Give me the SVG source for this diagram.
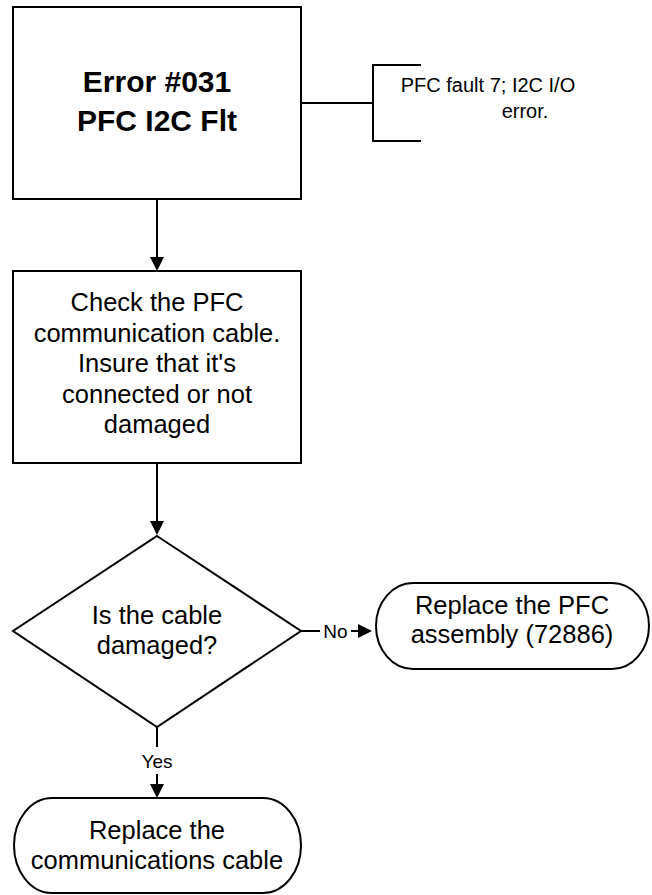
<svg xmlns="http://www.w3.org/2000/svg" width="652" height="895" viewBox="0 0 652 895">
<style>
.shape{fill:#fff;stroke:#000;stroke-width:2}
.line{fill:none;stroke:#000;stroke-width:2}
text{font-family:"Liberation Sans",Arial,sans-serif;fill:#000;text-anchor:middle}
.t{font-size:25.5px}
.b{font-size:30px;font-weight:bold}
.a{font-size:20px}
.l{font-size:19px}
</style>
<defs>
<marker id="arr" viewBox="0 0 14 14" refX="6" refY="7" markerWidth="14" markerHeight="14" markerUnits="userSpaceOnUse" orient="auto">
<path d="M0,0 L14,7 L0,14 z" fill="#000"/>
</marker>
</defs>
<rect width="652" height="895" fill="#fff"/>
<g id="connectors">
<line class="line" x1="301" y1="103" x2="373" y2="103"/>
<line class="line" x1="157" y1="200" x2="157" y2="263" marker-end="url(#arr)"/>
<line class="line" x1="157" y1="464" x2="157" y2="527" marker-end="url(#arr)"/>
<line class="line" x1="301" y1="631" x2="320" y2="631"/>
<line class="line" x1="351" y1="631" x2="364" y2="631" marker-end="url(#arr)"/>
<text class="l" x="335.5" y="637.5">No</text>
<line class="line" x1="157" y1="727" x2="157" y2="747"/>
<line class="line" x1="157" y1="774" x2="157" y2="790" marker-end="url(#arr)"/>
<text class="l" x="157" y="768">Yes</text>
</g>
<g id="error">
<rect class="shape" x="13" y="7" width="288" height="192"/>
<text class="b" x="157" y="92">Error #031</text>
<text class="b" x="157" y="131">PFC I2C Flt</text>
</g>
<g id="note">
<path class="line" d="M421,65 H373 V141 H421"/>
<text class="a" x="488" y="92">PFC fault 7; I2C I/O</text>
<text class="a" x="525" y="118">error.</text>
</g>
<g id="check">
<rect class="shape" x="13" y="271" width="288" height="192"/>
<text class="t" x="157" y="311">Check the PFC</text>
<text class="t" x="157" y="342">communication cable.</text>
<text class="t" x="157" y="372">Insure that it's</text>
<text class="t" x="157" y="403">connected or not</text>
<text class="t" x="157" y="433">damaged</text>
</g>
<g id="decision">
<path class="shape" d="M157,536 L301,631 L157,727 L13,631 z"/>
<text class="t" x="157" y="624">Is the cable</text>
<text class="t" x="157" y="654">damaged?</text>
</g>
<g id="replace-pfc">
<path class="shape" d="M413,583 H612 A37,43 0 0 1 612,669 H413 A37,43 0 0 1 413,583 z"/>
<text class="t" x="512" y="614">Replace the PFC</text>
<text class="t" x="512" y="643">assembly (72886)</text>
</g>
<g id="replace-cable">
<path class="shape" d="M52,798 H263 A38,47.5 0 0 1 263,893 H52 A38,47.5 0 0 1 52,798 z"/>
<text class="t" x="157" y="839">Replace the</text>
<text class="t" x="157" y="869">communications cable</text>
</g>
</svg>
